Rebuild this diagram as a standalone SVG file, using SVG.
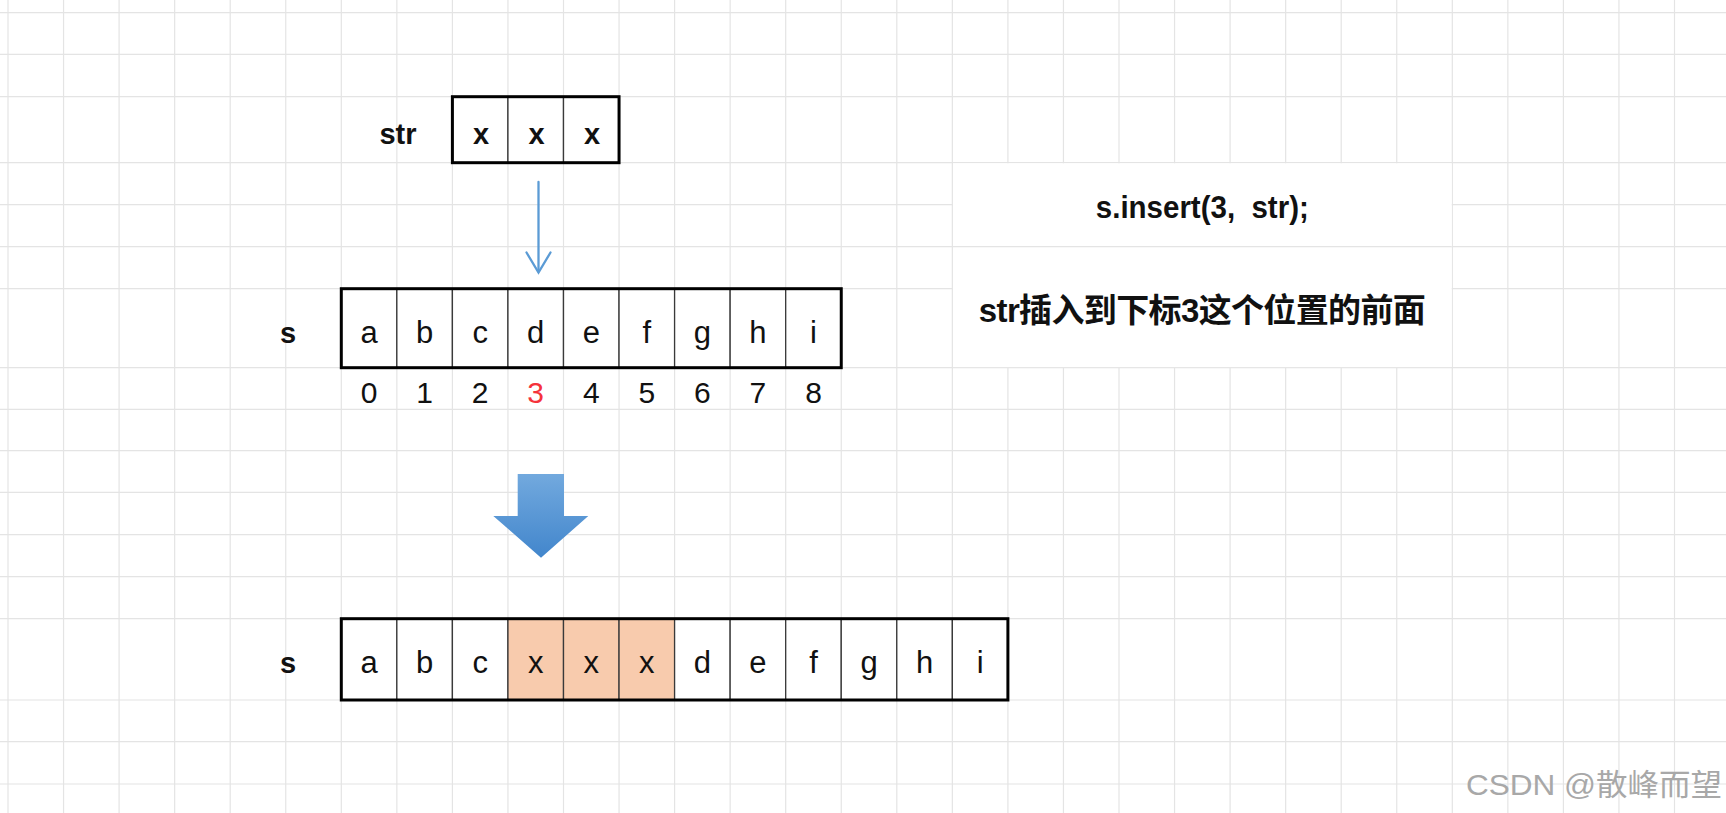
<svg xmlns="http://www.w3.org/2000/svg" width="1726" height="813" viewBox="0 0 1726 813">
<style>
.grid line{stroke:#e4e4e4;stroke-width:1.2}
.cell{fill:#ffffff;stroke:#3a3a3a;stroke-width:1.3}
.hl{fill:#f8cbad}
.outer{fill:none;stroke:#000;stroke-width:3}
.ch{font-family:"Liberation Sans",Arial,sans-serif;font-size:31px;fill:#111;text-anchor:middle}
.bx{font-family:"Liberation Sans",Arial,sans-serif;font-size:29px;font-weight:bold;fill:#111;text-anchor:middle}
.lbl{font-family:"Liberation Sans",Arial,sans-serif;font-size:29px;font-weight:bold;fill:#111;text-anchor:middle}
.idx{font-family:"Liberation Sans",Arial,sans-serif;font-size:30px;fill:#111;text-anchor:middle}
.note{font-family:"Liberation Sans","Noto Sans CJK SC",sans-serif;font-weight:bold;fill:#111;text-anchor:middle;white-space:pre}
.wm{font-family:"Liberation Sans","Noto Sans CJK SC",sans-serif;font-size:30px;fill:#a8a8a8}
</style>
<defs>
<linearGradient id="blueGrad" x1="0" y1="0" x2="0" y2="1">
<stop offset="0" stop-color="#72a9de"/>
<stop offset="1" stop-color="#4286cc"/>
</linearGradient>
</defs>
<rect width="1726" height="813" fill="#ffffff"/>
<g class="grid">
<line x1="8" y1="0" x2="8" y2="813"/><line x1="63.55" y1="0" x2="63.55" y2="813"/><line x1="119.1" y1="0" x2="119.1" y2="813"/><line x1="174.65" y1="0" x2="174.65" y2="813"/><line x1="230.2" y1="0" x2="230.2" y2="813"/><line x1="285.75" y1="0" x2="285.75" y2="813"/><line x1="341.3" y1="0" x2="341.3" y2="813"/><line x1="396.85" y1="0" x2="396.85" y2="813"/><line x1="452.4" y1="0" x2="452.4" y2="813"/><line x1="507.95" y1="0" x2="507.95" y2="813"/><line x1="563.5" y1="0" x2="563.5" y2="813"/><line x1="619.05" y1="0" x2="619.05" y2="813"/><line x1="674.6" y1="0" x2="674.6" y2="813"/><line x1="730.15" y1="0" x2="730.15" y2="813"/><line x1="785.7" y1="0" x2="785.7" y2="813"/><line x1="841.25" y1="0" x2="841.25" y2="813"/><line x1="896.8" y1="0" x2="896.8" y2="813"/><line x1="952.35" y1="0" x2="952.35" y2="813"/><line x1="1007.9" y1="0" x2="1007.9" y2="813"/><line x1="1063.45" y1="0" x2="1063.45" y2="813"/><line x1="1119" y1="0" x2="1119" y2="813"/><line x1="1174.55" y1="0" x2="1174.55" y2="813"/><line x1="1230.1" y1="0" x2="1230.1" y2="813"/><line x1="1285.65" y1="0" x2="1285.65" y2="813"/><line x1="1341.2" y1="0" x2="1341.2" y2="813"/><line x1="1396.75" y1="0" x2="1396.75" y2="813"/><line x1="1452.3" y1="0" x2="1452.3" y2="813"/><line x1="1507.85" y1="0" x2="1507.85" y2="813"/><line x1="1563.4" y1="0" x2="1563.4" y2="813"/><line x1="1618.95" y1="0" x2="1618.95" y2="813"/><line x1="1674.5" y1="0" x2="1674.5" y2="813"/>
<line x1="0" y1="12.7" x2="1726" y2="12.7"/><line x1="0" y1="54.3" x2="1726" y2="54.3"/><line x1="0" y1="96.7" x2="1726" y2="96.7"/><line x1="0" y1="162.7" x2="1726" y2="162.7"/><line x1="0" y1="204.7" x2="1726" y2="204.7"/><line x1="0" y1="246.7" x2="1726" y2="246.7"/><line x1="0" y1="288.7" x2="1726" y2="288.7"/><line x1="0" y1="367.7" x2="1726" y2="367.7"/><line x1="0" y1="409.3" x2="1726" y2="409.3"/><line x1="0" y1="450.7" x2="1726" y2="450.7"/><line x1="0" y1="492.3" x2="1726" y2="492.3"/><line x1="0" y1="534.7" x2="1726" y2="534.7"/><line x1="0" y1="576.7" x2="1726" y2="576.7"/><line x1="0" y1="618.7" x2="1726" y2="618.7"/><line x1="0" y1="700" x2="1726" y2="700"/><line x1="0" y1="741.7" x2="1726" y2="741.7"/><line x1="0" y1="784" x2="1726" y2="784"/>
</g>

<g id="note-box">
<rect x="953" y="163.3" width="498.7" height="203.8" fill="#ffffff"/>
<line x1="953" y1="246.7" x2="1451.7" y2="246.7" stroke="#e4e4e4" stroke-width="1.2"/>
<text class="note" x="1202.3" y="218" font-size="31" textLength="213" lengthAdjust="spacingAndGlyphs">s.insert(3,  str);</text>
<text class="note" x="1202.3" y="321.5" font-size="33" textLength="447" lengthAdjust="spacing">str插入到下标3这个位置的前面</text>
</g>

<g id="str-label"><text class="lbl" x="398" y="143.5">str</text></g>

<g id="str-array">
<rect class="cell" x="452.4" y="96.7" width="55.55" height="66"/>
<rect class="cell" x="507.95" y="96.7" width="55.55" height="66"/>
<rect class="cell" x="563.5" y="96.7" width="55.55" height="66"/>
<rect class="outer" x="452.4" y="96.7" width="166.65" height="66"/>
<text class="bx" x="481" y="144">x</text><text class="bx" x="536.5" y="144">x</text><text class="bx" x="592" y="144">x</text>
</g>

<g id="s-label"><text class="lbl" x="288" y="342.5">s</text></g>

<g id="s-array">
<rect class="cell" x="341.3" y="288.7" width="55.55" height="79"/><rect class="cell" x="396.85" y="288.7" width="55.55" height="79"/><rect class="cell" x="452.4" y="288.7" width="55.55" height="79"/><rect class="cell" x="507.95" y="288.7" width="55.55" height="79"/><rect class="cell" x="563.5" y="288.7" width="55.55" height="79"/><rect class="cell" x="619.05" y="288.7" width="55.55" height="79"/><rect class="cell" x="674.6" y="288.7" width="55.55" height="79"/><rect class="cell" x="730.15" y="288.7" width="55.55" height="79"/><rect class="cell" x="785.7" y="288.7" width="55.55" height="79"/>
<rect class="outer" x="341.3" y="288.7" width="499.95" height="79"/>
<text class="ch" x="369.1" y="343">a</text><text class="ch" x="424.6" y="343">b</text><text class="ch" x="480.2" y="343">c</text><text class="ch" x="535.7" y="343">d</text><text class="ch" x="591.3" y="343">e</text><text class="ch" x="646.8" y="343">f</text><text class="ch" x="702.4" y="343">g</text><text class="ch" x="757.9" y="343">h</text><text class="ch" x="813.5" y="343">i</text>
</g>

<g id="s-indices">
<text class="idx" x="369.1" y="402.5">0</text><text class="idx" x="424.6" y="402.5">1</text><text class="idx" x="480.2" y="402.5">2</text><text class="idx" x="535.7" y="402.5" style="fill:#f5333b">3</text><text class="idx" x="591.3" y="402.5">4</text><text class="idx" x="646.8" y="402.5">5</text><text class="idx" x="702.4" y="402.5">6</text><text class="idx" x="757.9" y="402.5">7</text><text class="idx" x="813.5" y="402.5">8</text>
</g>

<g id="connectors">
<g id="small-arrow" fill="none" stroke="#5b9bd5" stroke-width="2.3" stroke-linecap="round">
<line x1="538.5" y1="182" x2="538.5" y2="271.5"/>
<polyline points="526.5,252.5 538.5,272.5 550.5,252.5"/>
</g>
<polygon id="big-arrow" points="517.7,474 564,474 564,516 588.3,516 541,557.7 493.3,516 517.7,516" fill="url(#blueGrad)"/>
</g>

<g id="s-label-2"><text class="lbl" x="288" y="672.5">s</text></g>

<g id="result-array">
<rect class="cell" x="341.3" y="618.7" width="55.55" height="81.3"/><rect class="cell" x="396.85" y="618.7" width="55.55" height="81.3"/><rect class="cell" x="452.4" y="618.7" width="55.55" height="81.3"/>
<rect class="cell hl" x="507.95" y="618.7" width="55.55" height="81.3"/><rect class="cell hl" x="563.5" y="618.7" width="55.55" height="81.3"/><rect class="cell hl" x="619.05" y="618.7" width="55.55" height="81.3"/>
<rect class="cell" x="674.6" y="618.7" width="55.55" height="81.3"/><rect class="cell" x="730.15" y="618.7" width="55.55" height="81.3"/><rect class="cell" x="785.7" y="618.7" width="55.55" height="81.3"/><rect class="cell" x="841.25" y="618.7" width="55.55" height="81.3"/><rect class="cell" x="896.8" y="618.7" width="55.55" height="81.3"/><rect class="cell" x="952.35" y="618.7" width="55.55" height="81.3"/>
<rect class="outer" x="341.3" y="618.7" width="666.6" height="81.3"/>
<text class="ch" x="369.1" y="672.7">a</text><text class="ch" x="424.6" y="672.7">b</text><text class="ch" x="480.2" y="672.7">c</text><text class="ch" x="535.7" y="672.7">x</text><text class="ch" x="591.3" y="672.7">x</text><text class="ch" x="646.8" y="672.7">x</text><text class="ch" x="702.4" y="672.7">d</text><text class="ch" x="757.9" y="672.7">e</text><text class="ch" x="813.5" y="672.7">f</text><text class="ch" x="869" y="672.7">g</text><text class="ch" x="924.6" y="672.7">h</text><text class="ch" x="980.1" y="672.7">i</text>
</g>

<g id="watermark">
<text class="wm" x="1466" y="795" textLength="256" lengthAdjust="spacingAndGlyphs">CSDN @散峰而望</text>
</g>
</svg>
